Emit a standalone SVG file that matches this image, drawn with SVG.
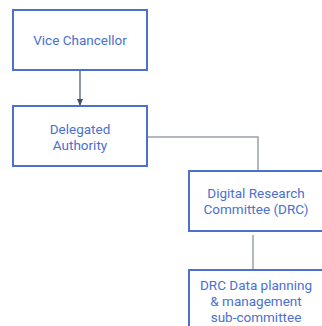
<svg xmlns="http://www.w3.org/2000/svg" width="322" height="326" viewBox="0 0 322 326">
<style>
.box{fill:#fff;stroke:#4a72c8;stroke-width:2}
.t{font-family:Roboto,"Liberation Sans",sans-serif;font-size:13.5px;fill:#4a6fd0;text-anchor:middle}
.c{fill:none;stroke:#9aa0aa;stroke-width:1.5}
</style>
<defs>
<marker id="ah" markerWidth="8" markerHeight="8" refX="6" refY="4" orient="auto" markerUnits="userSpaceOnUse">
<path d="M0,1 L7,4 L0,7 Z" fill="#44506a"/>
</marker>
</defs>
<rect width="322" height="326" fill="#fff"/>
<g id="connectors">
<line x1="80" y1="70" x2="80" y2="105" stroke="#44506a" stroke-width="1.2" marker-end="url(#ah)"/>
<polyline class="c" points="147,137 258,137 258,170"/>
<line class="c" x1="253" y1="235" x2="253" y2="270"/>
</g>
<g id="vice-chancellor">
<rect class="box" x="13" y="10" width="134" height="60"/>
<text class="t" x="80" y="45">Vice Chancellor</text>
</g>
<g id="delegated-authority">
<rect class="box" x="13" y="106" width="134" height="60"/>
<text class="t" x="80" y="134">Delegated</text>
<text class="t" x="80" y="150">Authority</text>
</g>
<g id="drc">
<rect class="box" x="189" y="171" width="134" height="60"/>
<text class="t" x="256" y="198">Digital Research</text>
<text class="t" x="256" y="214">Committee (DRC)</text>
</g>
<g id="drc-sub">
<rect class="box" x="189" y="270" width="134" height="60"/>
<text class="t" x="256" y="290">DRC Data planning</text>
<text class="t" x="256" y="306">&amp; management</text>
<text class="t" x="256" y="322">sub-committee</text>
</g>
</svg>
